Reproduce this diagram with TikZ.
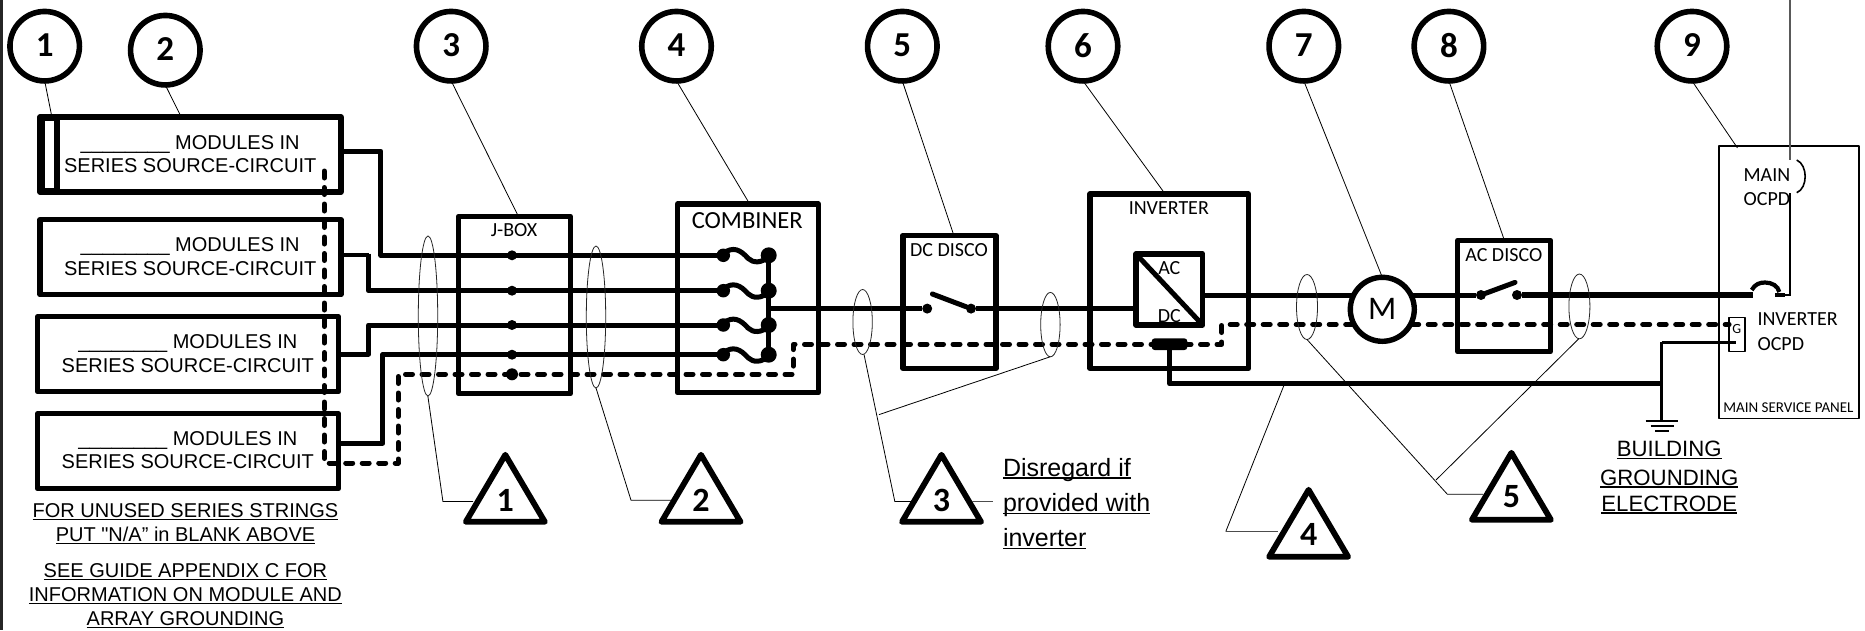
\documentclass[tikz,border=0pt]{standalone}
\usepackage{fontspec}
\setmainfont{Liberation Sans}
\newfontfamily\lib{Liberation Sans}
\newfontfamily\cb{Carlito}
\usetikzlibrary{calc}
\newsavebox\ulbox
\newcommand\myul[1]{\sbox\ulbox{#1}\leavevmode\rlap{\rule[-2.6pt]{\wd\ulbox}{1.2pt}}\usebox\ulbox}
\newcommand\modtext{\_\_\_\_\_\_\_\_ MODULES IN\\SERIES SOURCE-CIRCUIT}
\newcommand\trimark[4]{%
  \draw[tristyle] (#2,#3-67) -- (#2+39.5,#3) -- (#2-39.5,#3) -- cycle;
  \node[trinum] (#1) at (#2,#4) {#1};}
\tikzset{
  x=1pt,y=-1pt,
  numcirc/.style={circle,draw=black,line width=5.6pt,minimum size=69.5pt,inner sep=0pt,outer sep=0pt,
    font=\cb\bfseries\fontsize{35}{35}\selectfont},
  box/.style={rectangle,draw=black,line width=5.4pt,inner sep=0pt,outer sep=0pt,line join=round},
  tristyle/.style={draw=black,line width=5.8pt,line join=round},
  trinum/.style={inner sep=0pt,font=\cb\bfseries\fontsize{34}{34}\selectfont},
  wire/.style={draw=black,line width=5pt,line join=round},
  gnd/.style={draw=black,line width=5pt,line cap=round,line join=round,dash pattern=on 7pt off 9.5pt},
  lead/.style={draw=black,line width=0.8pt},
  ring/.style={draw=black!85,line width=0.8pt},
  dot/.style={circle,fill=black,inner sep=0pt,outer sep=0pt,minimum size=#1},
  modlabel/.style={anchor=base,align=center,inner sep=0pt,font=\fontsize{20}{23.5}\selectfont},
  ullabel/.style={anchor=base,align=center,inner sep=0pt},
  cal/.style={inner sep=0pt,font=\cb\fontsize{20}{24}\selectfont},
}
\begin{document}
\begin{tikzpicture}
\useasboundingbox (0,0) rectangle (1865,630);
\fill[white] (0,0) rectangle (1865,630);
\fill[black!85] (0,0) rectangle (3,630);

% numbered circles
\node[numcirc] (c1) at (44.7,46.2) {\raisebox{2pt}{1}};
\node[numcirc] (c2) at (165.3,50.2) {\raisebox{2pt}{2}};
\node[numcirc] (c3) at (451.2,46.2) {\raisebox{2pt}{3}};
\node[numcirc] (c4) at (676.5,46.2) {\raisebox{2pt}{4}};
\node[numcirc] (c5) at (902.3,46.2) {\raisebox{2pt}{5}};
\node[numcirc] (c6) at (1083,46.2) {\raisebox{2pt}{6}};
\node[numcirc] (c7) at (1303.8,46.2) {\raisebox{2pt}{7}};
\node[numcirc] (c8) at (1448.9,46.2) {\raisebox{2pt}{8}};
\node[numcirc] (c9) at (1692,46.2) {\raisebox{2pt}{9}};

% module boxes
\node[box,minimum width=300.8pt,minimum height=75pt] (m1) at (190.4,154.5) {};
\node[box,minimum width=300.8pt,minimum height=75pt] (m2) at (190.4,257.2) {};
\node[box,minimum width=300.8pt,minimum height=75pt] (m3) at (188,354.2) {};
\node[box,minimum width=300.8pt,minimum height=75pt] (m4) at (188,451.2) {};
\node[box,minimum width=15pt,minimum height=72pt] (bar) at (49.5,154.5) {};
\node[modlabel] (t1) at (190.2,172.8) {\modtext};
\node[modlabel] (t2) at (190.2,275) {\modtext};
\node[modlabel] (t3) at (187.8,372.4) {\modtext};
\node[modlabel] (t4) at (187.8,468.9) {\modtext};

% enclosures
\node[box,minimum width=112pt,minimum height=177pt] (jbox) at (514.4,305) {};
\node[cal] (jt) at (514,230) {J-BOX};
\node[box,minimum width=140.7pt,minimum height=188.7pt] (comb) at (747.9,298.4) {};
\node[cal,font=\cb\fontsize{24.6}{24.6}\selectfont] (ct) at (747.3,221) {COMBINER};
\node[box,minimum width=93.2pt,minimum height=132.8pt] (dcd) at (949.4,301.9) {};
\node[cal] (dct) at (949,250) {DC DISCO};
\node[box,minimum width=158.3pt,minimum height=174.3pt] (inv) at (1169.2,281.2) {};
\node[cal] (it) at (1168.8,207.7) {INVERTER};
\node[box,minimum width=66.7pt,minimum height=71pt] (conv) at (1169.4,289.5) {};
\node[box,minimum width=92.7pt,minimum height=111.2pt] (acd) at (1504,295.9) {};
\node[cal] (act) at (1503.8,254.7) {AC DISCO};
\node[box,line width=1.8pt,minimum width=140pt,minimum height=272.5pt] (panel) at (1789,282.2) {};
\node[cal,font=\cb\fontsize{15}{15}\selectfont] (pt) at (1788.4,407.4) {MAIN SERVICE PANEL};
\node[cal,align=center] (mt) at (1766.9,186.8) {MAIN\\OCPD};
\node[cal,align=left,anchor=north west,font=\cb\fontsize{20}{25}\selectfont] (iot) at (1757.3,312) {INVERTER\\OCPD};
\node[box,line width=1.5pt,minimum width=15.7pt,minimum height=34.4pt] (gbox) at (1736.9,334.5) {};
\node[cal,font=\cb\fontsize{14}{14}\selectfont] (gt) at (1736.7,329) {G};

% dots
\node[dot=10pt] (j1) at (512,255.3) {};
\node[dot=10pt] (j2) at (512,290.7) {};
\node[dot=10pt] (j3) at (512,325) {};
\node[dot=10pt] (j4) at (512,354.7) {};
\node[dot=12pt] (j5) at (512,374.3) {};
\node[dot=13.5pt] (l1) at (723.3,255.3) {};
\node[dot=13.5pt] (l2) at (723.3,290.7) {};
\node[dot=13.5pt] (l3) at (723.3,325) {};
\node[dot=13.5pt] (l4) at (723.3,354.7) {};
\node[dot=16pt] (r1) at (768.7,255.3) {};
\node[dot=16pt] (r2) at (768.7,290.7) {};
\node[dot=16pt] (r3) at (768.7,325) {};
\node[dot=16pt] (r4) at (768.7,354.7) {};
\node[dot=10pt] (s1) at (927.2,308.6) {};
\node[dot=10pt] (s2) at (971,308.6) {};
\node[dot=10pt] (a1) at (1481,295) {};
\node[dot=10pt] (a2) at (1517,295) {};

% source-circuit wires
\draw[wire] (m1.east |- 0,151) -- (380.8,151) -- (380.8,255.3) -- (l1);
\draw[wire,line width=3.5pt] (m2.east |- 0,255) -- (368.5,255);
\draw[wire] (368.5,253.5) -- (368.5,290.7) -- (l2);
\draw[wire] (m3.east |- 0,354) -- (368.5,354) -- (368.5,325) -- (l3);
\draw[wire] (m4.east |- 0,443) -- (382.8,443) -- (382.8,354.7) -- (l4);

% fuses
\foreach \yy in {255.3,290.7,325,354.7}{
  \draw[wire] (723.3,\yy-2) .. controls (733,\yy-9) and (740,\yy-6) .. (748,\yy+3)
    .. controls (753,\yy+8) and (762,\yy+8) .. (768.7,\yy+1);
}
\draw[wire] (r1) -- (r4);

% DC and AC runs
\coordinate (busout) at (768.7,308.6);
\draw[wire] (busout) -- (s1);
\draw[wire] (s2) -- (conv.west |- s2);
\draw[wire,line cap=round] (932.4,294) -- (s2);
\draw[wire] (1136,254) -- (1202.7,325);
\node[cal] (ac) at (1169.3,268.3) {AC};
\node[cal] (dc) at (1169.3,316) {DC};

% motor
\draw[wire] (conv.east |- a1) -- (a1);
\draw[wire,line cap=round] (a1) -- (1515,282.4);
\draw[wire,line width=5.4pt] (a2) -- (1753.3,295);

% ground conductor
\draw[gnd] (324.2,171) -- (324.2,463) -- (398.2,463) -- (398.2,374.3) -- (793.3,374.3) -- (793.3,344.3) -- (1221.7,344.3) -- (1221.7,324.5) -- (gbox.west |- 0,324.5);
\node[rectangle,fill=black,rounded corners=3pt,minimum width=35.6pt,minimum height=11.7pt,inner sep=0pt] (lug) at (1169.5,344.2) {};
\node[circle,draw=black,fill=white,line width=5.4pt,minimum size=64pt,inner sep=0pt,outer sep=0pt,font=\cb\fontsize{33}{33}\selectfont] (mot) at (1382.3,309.3) {M};

\coordinate (gj) at (1661.7,383.7);
\draw[wire] (lug.south) -- (lug.south |- gj) -- (gj);
\draw[draw=black,line width=3pt] (gj |- 0,342) -- (1736,342);
\draw[draw=black,line width=3pt] (gj |- 0,342) -- (gj |- 0,420.7);
\draw[draw=black,line width=2pt] (1645.7,420.7) -- (1677.6,420.7);
\draw[draw=black,line width=2pt] (1650.5,425.9) -- (1673.7,425.9);
\draw[draw=black,line width=2pt] (1655.4,430.7) -- (1668.5,430.7);

% main service panel internals
\draw[draw=black!65,line width=1.6pt] (1790,0) -- (1790,160);
\draw[draw=black,line width=1.8pt] (1790,193) -- (1790,295) -- (1776,295);
\draw[draw=black,line width=1.6pt] (1796.7,160) .. controls (1808,165) and (1808,188) .. (1796.7,192.7);
\draw[draw=black,line width=4.2pt] (1751.7,290) .. controls (1755,284) and (1760,282.5) .. (1765,282.5) .. controls (1772,282.5) and (1778,286) .. (1779.3,292);
\draw[draw=black,line width=4.4pt] (1775,295) -- (1785,295);

% rings
\draw[ring] (428,316) ellipse (9.7 and 80);
\draw[ring] (596,317) ellipse (9.7 and 71);
\draw[ring] (862.6,322) ellipse (9.7 and 32.5);
\draw[ring] (1050.4,324.6) ellipse (9.7 and 32.2);
\draw[ring] (1307,307) ellipse (10.5 and 32.5);
\draw[ring] (1579.4,306.4) ellipse (10.5 and 32.4);

% triangles
\trimark{1}{505.3}{521.8}{500}
\trimark{2}{701}{521.8}{500}
\trimark{3}{941.5}{521.8}{500}
\trimark{4}{1308.6}{556.8}{534.4}
\trimark{5}{1511.4}{519.8}{496.2}

% leaders of circles
\draw[lead] (c1.south) -- (51.4,114.5);
\draw[lead] (c2.south) -- (180,114.5);
\draw[lead] (c3.south) -- (517.2,214);
\draw[lead] (c4.south) -- (748.5,202);
\draw[lead] (c5.south) -- (953.3,233.8);
\draw[lead] (c6.south) -- (1163.7,192);
\draw[lead] (c7.south) -- (mot.north);
\draw[lead] (c8.south) -- (1503.5,237.8);
\draw[lead] (c9.south) -- (1737.4,147.9);

% leaders of triangles
\draw[lead] (427.8,395.7) -- (442.9,501.4) -- (473,501.4);
\draw[lead] (595.9,387.7) -- (631,500.2) -- (671.4,500.2);
\draw[lead] (864,354.4) -- (894.8,501.4) -- (913,501.4);
\draw[lead] (879,414.6) -- (1050.2,356.8);
\draw[lead,draw=black!70] (972,501.4) -- (992.5,501.4);
\draw[lead] (1283.8,385.7) -- (1225.8,531.5);
\draw[lead,draw=black!70] (1225.8,531.5) -- (1278,531.5);
\draw[lead] (1307,339.5) -- (1447.3,494.2) -- (1483,494.2);
\draw[lead] (1578.8,338.7) -- (1436,480);

% underlined texts
\node[ullabel,font=\fontsize{20}{23.7}\selectfont] (n1) at (185.5,541.2) {\myul{FOR UNUSED SERIES STRINGS}\\\myul{PUT {\lib"}N/A” in BLANK ABOVE}};
\node[ullabel,font=\fontsize{20}{24}\selectfont] (n2) at (185.4,625.2) {\myul{SEE GUIDE APPENDIX C FOR}\\\myul{INFORMATION ON MODULE AND}\\\myul{ARRAY GROUNDING}};
\node[ullabel,align=left,anchor=base west,font=\fontsize{25}{35.2}\selectfont] (n3) at (1002.8,546.4) {\myul{Disregard if}\\\myul{provided with}\\\myul{inverter}};
\node[ullabel,font=\fontsize{22.2}{27.1}\selectfont] (n4) at (1669.2,511) {\myul{BUILDING}\\[1.1pt]\myul{GROUNDING}\\[-1.1pt]\myul{ELECTRODE}};
\end{tikzpicture}
\end{document}
